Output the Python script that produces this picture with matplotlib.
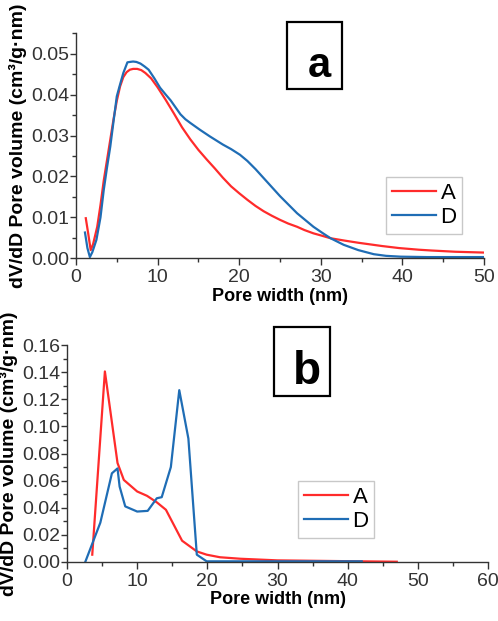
import matplotlib
matplotlib.use('Agg')
import matplotlib.pyplot as plt
from matplotlib.ticker import MultipleLocator, FormatStrFormatter
from matplotlib.patches import Rectangle

# Panel a: pore size distribution
a_x_A = [1.2, 1.5, 1.8, 2.1, 2.6, 3.0, 3.4, 3.8, 4.2, 4.6, 5.0, 5.4, 5.8, 6.2, 6.6, 7.0,
         7.5, 8.0, 8.5, 9.2, 10.0, 11.0, 12.0, 13.0, 14.0, 15.0, 16.0, 17.0, 18.0, 19.0,
         20.0, 21.0, 22.0, 23.0, 24.0, 25.0, 26.0, 27.1, 28.0, 29.1, 30.0, 31.2, 33.0,
         34.6, 37.5, 39.6, 42.0, 43.6, 46.5, 50.0]
a_y_A = [0.0098, 0.0060, 0.0020, 0.0035, 0.0077, 0.0130, 0.0190, 0.0240, 0.0290, 0.0340,
         0.0385, 0.0420, 0.0443, 0.0455, 0.0461, 0.0463, 0.0463, 0.0460, 0.0453, 0.0440,
         0.0418, 0.0387, 0.0354, 0.0320, 0.0291, 0.0265, 0.0242, 0.0220, 0.0197, 0.0176,
         0.0159, 0.0143, 0.0128, 0.0115, 0.0104, 0.0094, 0.0085, 0.0077, 0.0069, 0.0061,
         0.0056, 0.0049, 0.0043, 0.0038, 0.0030, 0.0025, 0.0021, 0.0019, 0.0016, 0.0014]
a_x_D = [1.1, 1.4, 1.7, 2.0, 2.5, 3.0, 3.4, 3.8, 4.2, 4.6, 5.0, 5.4, 5.8, 6.3, 6.6, 7.0,
         7.4, 7.9, 8.4, 8.9, 9.6, 10.3, 11.0, 11.6, 12.2, 12.8, 13.4, 14.0, 15.2, 16.4,
         18.0, 19.0, 20.1, 21.0, 22.0, 23.0, 24.0, 25.0, 27.1, 29.1, 30.2, 31.2, 32.8,
         34.6, 36.5, 38.0, 39.8, 43.0, 50.0]
a_y_D = [0.0063, 0.0025, 0.0003, 0.0015, 0.0045, 0.0100, 0.0167, 0.0222, 0.0273, 0.0335,
         0.0396, 0.0425, 0.0453, 0.0479, 0.0480, 0.0481, 0.0480, 0.0476, 0.0469, 0.0461,
         0.0440, 0.0417, 0.0400, 0.0386, 0.0369, 0.0352, 0.0340, 0.0331, 0.0314, 0.0298,
         0.0278, 0.0267, 0.0253, 0.0238, 0.0218, 0.0196, 0.0174, 0.0152, 0.0110, 0.0077,
         0.0062, 0.0049, 0.0033, 0.0020, 0.0010, 0.0006, 0.0004, 0.0003, 0.0003]

# Panel b
b_x_A = [3.6, 5.4, 7.2, 8.1, 10.0, 11.4, 12.8, 14.1, 16.4, 18.5, 19.9, 21.8, 24.7,
         30.0, 40.0, 47.0]
b_y_A = [0.0054, 0.1405, 0.0730, 0.0605, 0.0520, 0.0488, 0.0440, 0.0385, 0.0157, 0.0078,
         0.0054, 0.0035, 0.0024, 0.0012, 0.0006, 0.0002]
b_x_D = [2.6, 4.75, 6.4, 7.2, 7.5, 8.3, 10.0, 11.5, 12.8, 13.5, 14.8, 16.0, 17.3, 18.5,
         19.9, 25.0, 42.0]
b_y_D = [0.0, 0.0290, 0.0654, 0.0690, 0.0556, 0.0410, 0.0372, 0.0377, 0.0470, 0.0478,
         0.0700, 0.1267, 0.0910, 0.0054, 0.0005, 0.0005, 0.0005]

red = '#ff2b2b'
blue = '#1f6db5'
ylabel = 'dV/dD Pore volume (cm³/g·nm)'

plt.rcParams['font.family'] = ['Liberation Sans', 'DejaVu Sans']

W, H = 498, 621
fig = plt.figure(figsize=(W / 100, H / 100), dpi=100)


def style_axes(ax, xmajor, xminor, ymajor, yminor):
    for s in ['top', 'right']:
        ax.spines[s].set_visible(False)
    for s in ['left', 'bottom']:
        ax.spines[s].set_color('#333333')
        ax.spines[s].set_linewidth(1.0)
    ax.xaxis.set_major_locator(MultipleLocator(xmajor))
    ax.xaxis.set_minor_locator(MultipleLocator(xminor))
    ax.yaxis.set_major_locator(MultipleLocator(ymajor))
    ax.yaxis.set_minor_locator(MultipleLocator(yminor))
    ax.yaxis.set_major_formatter(FormatStrFormatter('%.2f'))
    ax.tick_params(axis='x', which='major', direction='out', length=5, width=1, pad=3)
    ax.tick_params(axis='x', which='minor', direction='out', length=3, width=1)
    ax.tick_params(axis='y', which='major', direction='out', length=4, width=1, pad=1)
    ax.tick_params(axis='y', which='minor', direction='out', length=3, width=1)
    ax.tick_params(which='both', colors='#333333', labelsize=14, labelcolor='#333333')
    ax.set_xlabel('Pore width (nm)', fontsize=13, fontweight='bold', labelpad=1)
    ax.set_ylabel(ylabel, fontsize=14, fontweight='bold', labelpad=3)


def add_legend(ax, anchor):
    ax.legend(loc='upper left', bbox_to_anchor=anchor, fontsize=16, frameon=True,
              fancybox=False, edgecolor='#bbbbbb', handlelength=2.0, handletextpad=0.2,
              borderpad=0.25, labelspacing=0.15, borderaxespad=0)


# ---- panel a ----
ax1 = fig.add_axes([76 / W, 1 - 258.3 / H, 408 / W, 225 / H])
ax1.plot(a_x_A, a_y_A, color=red, lw=1.6, label='A')
ax1.plot(a_x_D, a_y_D, color=blue, lw=1.6, label='D')
ax1.set_xlim(0, 50)
ax1.set_ylim(0, 0.055)
style_axes(ax1, 10, 5, 0.01, 0.005)
add_legend(ax1, (0.76, 0.36))

# ---- panel b ----
ax2 = fig.add_axes([67 / W, 1 - 562 / H, 421 / W, 217 / H])
ax2.plot(b_x_A, b_y_A, color=red, lw=1.6, label='A')
ax2.plot(b_x_D, b_y_D, color=blue, lw=1.6, label='D')
ax2.set_xlim(0, 60)
ax2.set_ylim(0, 0.16)
style_axes(ax2, 10, 5, 0.02, 0.01)
add_legend(ax2, (0.549, 0.373))

# panel tags in boxes (pixel boxes converted to figure fractions)
tags = [('a', (287, 22, 342, 89), (319, 77), 30),
        ('b', (274, 327, 330, 396), (306.5, 384), 33)]
for tag, (x0, y0, x1, y1), (tx, ty), fs in tags:
    fig.patches.append(Rectangle((x0 / W, 1 - y1 / H), (x1 - x0) / W, (y1 - y0) / H,
                                 transform=fig.transFigure, facecolor='white',
                                 edgecolor='black', linewidth=1.6, zorder=5))
    fig.text(tx / W, 1 - ty / H, tag, fontsize=fs, fontweight='bold', ha='center',
             va='baseline', zorder=6)

fig.savefig('out.png', dpi=100)
